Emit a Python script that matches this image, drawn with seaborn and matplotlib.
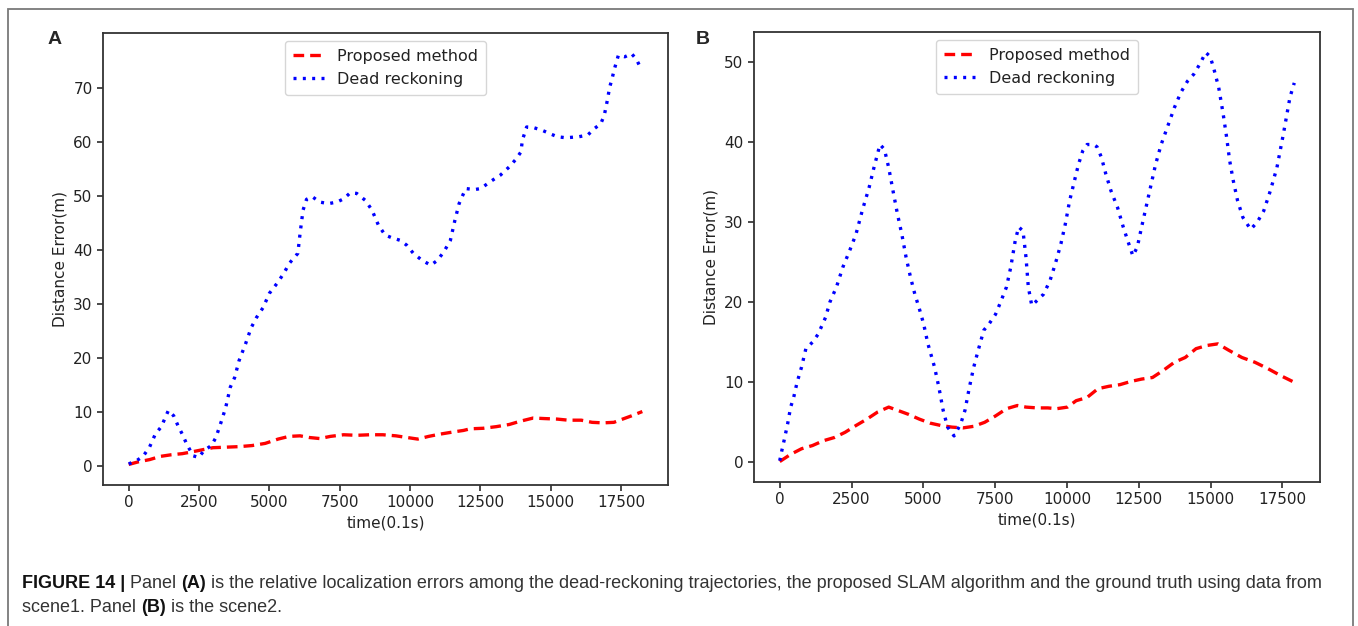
import numpy as np
import pandas as pd
import matplotlib
matplotlib.use("Agg")
import matplotlib.pyplot as plt
import seaborn as sns
from matplotlib.patches import Rectangle

# ---------------- data ----------------
# Panel A – dead reckoning (blue dotted)
a_dr_t = [0, 280, 510, 740, 945, 1160, 1410, 1600, 1750, 1905, 2060, 2290, 2490, 2680, 2940,
          3100, 3300, 3450, 3610, 3765, 3920, 4150, 4350, 4540, 4770, 5000, 5310, 5545, 5700,
          6010, 6090, 6195, 6320, 6520, 6785, 7095, 7405, 7640, 7870, 8100, 8410, 8645, 8875,
          9110, 9340, 9650, 9880, 10115, 10425, 10735, 10970, 11200, 11430, 11590, 11740,
          11975, 12280, 12515, 12825, 13210, 13520, 13755, 13940, 13985, 14140, 14375, 14685,
          14995, 15225, 15535, 16000, 16310, 16545, 16775, 16900, 17010, 17090, 17165, 17245,
          17400, 17630, 17865, 18045, 18200]
a_dr_e = [0.3, 0.9, 1.7, 3.4, 5.8, 7.2, 10.2, 9.2, 7.4, 5.8, 4.0, 1.8, 1.5, 2.8, 3.7,
          5.2, 8.3, 10.8, 14.5, 16.3, 19.4, 22.5, 25.5, 27.4, 29.2, 31.9, 34.0, 35.9, 37.4,
          39.3, 43.0, 47.3, 49.3, 49.8, 48.8, 48.5, 48.8, 49.4, 50.5, 50.4, 49.1, 47.3, 44.5,
          42.7, 42.2, 41.7, 40.8, 39.3, 38.0, 37.1, 38.0, 39.6, 41.7, 45.4, 48.5,
          51.3, 51.1, 51.3, 52.5, 53.8, 55.3, 56.7, 58.1, 60.2, 62.7, 62.6, 62.1,
          61.4, 60.9, 60.7, 60.9, 61.2, 62.4, 63.3, 64.9, 67.7, 70.1, 71.4, 73.2,
          76.0, 75.7, 76.3, 75.2, 73.5]
# Panel A – proposed method (red dashed)
a_pm_t = [0, 355, 745, 1130, 1520, 1905, 2215, 2600, 2990, 3455, 3920, 4385, 4850, 5310,
          5700, 6090, 6400, 6785, 7170, 7635, 8100, 8565, 9030, 9495, 9880, 10270, 10660,
          11045, 11510, 11895, 12130, 12595, 13060, 13520, 13910, 14375, 14760, 15225,
          15615, 16080, 16465, 16855, 17240, 17550, 17865, 18250]
a_pm_e = [0.2, 0.7, 1.1, 1.7, 2.0, 2.2, 2.5, 2.9, 3.3, 3.4, 3.5, 3.7, 4.1, 4.9,
          5.4, 5.5, 5.2, 5.0, 5.4, 5.7, 5.6, 5.7, 5.7, 5.5, 5.2, 4.9, 5.4,
          5.8, 6.2, 6.5, 6.8, 6.9, 7.2, 7.6, 8.2, 8.8, 8.7, 8.6,
          8.4, 8.4, 8.0, 7.9, 8.0, 8.6, 9.2, 10.0]

# Panel B – dead reckoning (blue dotted)
b_dr_t = [0, 75, 150, 275, 380, 485, 605, 760, 910, 1140, 1335, 1595, 1745, 1975, 2200,
          2430, 2655, 2885, 3110, 3265, 3490, 3645, 3795, 3945, 4100, 4250, 4400, 4555,
          4705, 4860, 5010, 5160, 5390, 5540, 5690, 5845, 6070, 6300, 6450, 6605, 6755,
          6910, 7105, 7290, 7515, 7665, 7895, 8045, 8200, 8320, 8470, 8575, 8655, 8775,
          8955, 9185, 9410, 9595, 9790, 9945, 10095, 10250, 10400, 10550, 10700, 10930,
          11050, 11200, 11355, 11535, 11765, 11960, 12115, 12295, 12450, 12600, 12750,
          12905, 13085, 13280, 13510, 13740, 13965, 14195, 14420, 14650, 14830, 14985,
          15105, 15285, 15440, 15560, 15665, 15790, 15940, 16125, 16395, 16625, 16850,
          17080, 17310, 17535, 17765, 17915]
b_dr_e = [0.2, 1.5, 2.7, 4.8, 6.9, 8.1, 10.0, 11.9, 14.2, 15.0, 16.0, 18.1, 20.0, 21.9, 24.4,
          26.4, 28.5, 31.6, 34.3, 36.6, 39.7, 39.1, 36.8, 33.9, 31.0, 28.5, 25.6, 23.1,
          21.0, 19.2, 17.3, 14.8, 11.9, 9.4, 6.5, 4.4, 3.3, 4.8, 6.5, 9.4, 11.9,
          14.0, 16.5, 17.3, 18.5, 19.8, 21.9, 24.4, 27.7, 29.4, 28.9, 25.6, 21.9, 19.6,
          20.2, 21.0, 22.7, 24.8, 27.3, 29.8, 32.7, 35.0, 37.2, 38.9, 39.7, 39.7,
          39.4, 38.1, 36.0, 33.9, 31.8, 29.4, 27.7, 25.8, 26.9, 29.4, 31.8,
          34.3, 37.2, 39.7, 42.0, 44.3, 46.2, 47.6, 48.5, 49.9, 51.2, 50.7,
          49.3, 46.8, 43.5, 40.6, 37.7, 35.2, 32.7, 30.6, 29.1, 30.0, 31.4,
          33.9, 36.8, 41.0, 45.6, 47.4]
# Panel B – proposed method (red dashed)
b_pm_t = [0, 380, 760, 1140, 1520, 1900, 2275, 2655, 3035, 3415, 3795, 4100, 4480, 4860,
          5235, 5615, 5995, 6375, 6755, 7135, 7515, 7895, 8275, 8575, 8955, 9335, 9640,
          10020, 10320, 10700, 11080, 11460, 11840, 12220, 12600, 12980, 13360, 13740,
          14120, 14495, 14875, 15255, 15635, 16090, 16545, 17000, 17460, 17915]
b_pm_e = [0.1, 1.0, 1.7, 2.1, 2.7, 3.1, 3.75, 4.6, 5.4, 6.3, 6.9, 6.5, 6.0, 5.4,
          4.9, 4.6, 4.4, 4.3, 4.5, 5.0, 5.8, 6.7, 7.1, 6.9, 6.8, 6.8, 6.7,
          6.9, 7.7, 8.1, 9.2, 9.5, 9.7, 10.1, 10.4, 10.6, 11.5, 12.5,
          13.1, 14.2, 14.6, 14.8, 14.0, 13.1, 12.5, 11.7, 10.8, 10.0]

series_names = ["Proposed method", "Dead reckoning"]
panel_letters = ["A", "B"]
x_label = "time(0.1s)"
y_label = "Distance Error(m)"
caption_l1 = [("FIGURE 14 | ", "bold"), ("Panel ", "normal"), ("(A)", "bold"),
              (" is the relative localization errors among the dead-reckoning trajectories, "
               "the proposed SLAM algorithm and the ground truth using data from", "normal")]
caption_l2 = [("scene1. Panel ", "normal"), ("(B)", "bold"), (" is the scene2.", "normal")]

# ---------------- style ----------------
sns.set_theme(style="ticks")
plt.rcParams["font.family"] = ["DejaVu Sans"]
plt.rcParams.update({
    "axes.edgecolor": "#333333",
    "axes.linewidth": 1.3,
    "xtick.color": "#333333",
    "ytick.color": "#333333",
    "xtick.labelcolor": "#222222",
    "ytick.labelcolor": "#222222",
    "xtick.labelsize": 11,
    "ytick.labelsize": 11,
    "axes.labelsize": 11,
    "axes.labelcolor": "#222222",
    "xtick.major.size": 4,
    "ytick.major.size": 4,
})

W, H = 1358, 626
fig = plt.figure(figsize=(W / 100, H / 100), dpi=100)
fig.patch.set_facecolor("white")

# outer frame
fig.add_artist(Rectangle((7.5 / W, -0.05), (1353 - 7.5) / W, 1.05 - 9 / H,
                         transform=fig.transFigure, fill=False,
                         edgecolor="#7a7a7a", linewidth=1.3))

axA = fig.add_axes([103 / W, (H - 485) / H, 565 / W, 452 / H])
axB = fig.add_axes([754 / W, (H - 482) / H, 566 / W, 450 / H])

panels = [
    (axA, a_pm_t, a_pm_e, a_dr_t, a_dr_e),
    (axB, b_pm_t, b_pm_e, b_dr_t, b_dr_e),
]

for ax, pt, pe, dt, de in panels:
    dfp = pd.DataFrame({"t": pt, "e": pe})
    dfd = pd.DataFrame({"t": dt, "e": de})
    sns.lineplot(data=dfp, x="t", y="e", ax=ax, color="red", linewidth=2.4,
                 linestyle=(0, (3.2, 1.8)), label=series_names[0], sort=False,
                 errorbar=None)
    sns.lineplot(data=dfd, x="t", y="e", ax=ax, color="blue", linewidth=2.4,
                 linestyle=(0, (0.9, 1.9)), label=series_names[1], sort=False,
                 errorbar=None)
    ax.set_xlabel(x_label)
    ax.set_ylabel(y_label)
    ax.set_xticks([0, 2500, 5000, 7500, 10000, 12500, 15000, 17500])
    for s in ax.spines.values():
        s.set_visible(True)
    leg = ax.legend(loc="upper center", fontsize=11.5, frameon=True, fancybox=True,
                    handlelength=2.0, borderpad=0.5, labelspacing=0.5)
    leg.get_frame().set_edgecolor("#cccccc")
    leg.get_frame().set_linewidth(1.0)
    for t in leg.get_texts():
        t.set_color("#222222")

axB.set_yticks([0, 10, 20, 30, 40, 50])
axA.set_yticks([0, 10, 20, 30, 40, 50, 60, 70])

fig.text(55 / W, 1 - 40 / H, panel_letters[0], fontsize=14, fontweight="bold",
         family="Liberation Sans", ha="center", va="center")
fig.text(703 / W, 1 - 40 / H, panel_letters[1], fontsize=14, fontweight="bold",
         family="Liberation Sans", ha="center", va="center")

# caption, segments of mixed weight
renderer = fig.canvas.get_renderer()
target_w = 1325 - 22
def draw_line(segments, y_px, size, measure_only=False):
    x = 22
    arts = []
    for txt, wt in segments:
        col = "#111111" if wt == "bold" else "#333333"
        t = fig.text(x / W, 1 - y_px / H, txt, fontsize=size, fontweight=wt,
                     family="Liberation Sans", color=col, ha="left", va="center")
        bb = t.get_window_extent(renderer=renderer)
        x += bb.width
        arts.append(t)
    if measure_only:
        for a in arts:
            a.remove()
    return x - 22

base = 12.0
w = draw_line(caption_l1, 583, base, measure_only=True)
size = base * target_w / w
draw_line(caption_l1, 583, size)
draw_line(caption_l2, 608, size)

fig.savefig("out.png", dpi=100, facecolor="white")
